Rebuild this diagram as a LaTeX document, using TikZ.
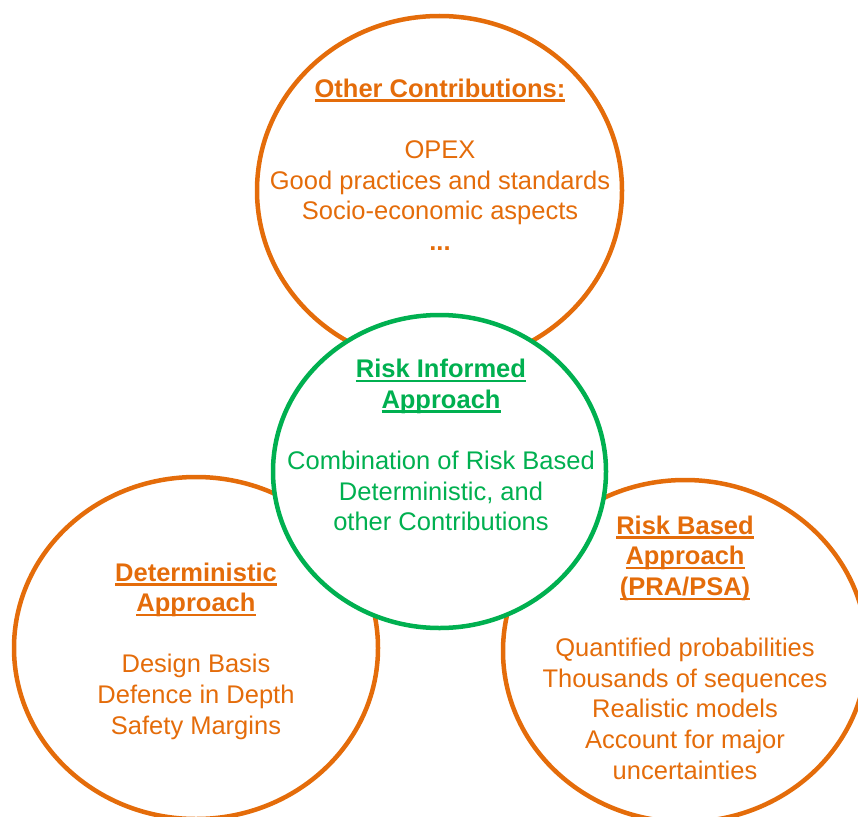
\documentclass[tikz,border=0pt]{standalone}
\usepackage{fontspec}
\setmainfont{Liberation Sans}
\definecolor{riskorange}{HTML}{E46C0A}
\definecolor{riskgreen}{HTML}{00B050}
% heading underline at a fixed distance below the baseline
\newcommand{\headul}[1]{\setbox0=\hbox{#1}\rlap{\rule[-4.6pt]{\wd0}{2.4pt}}\box0}
\tikzset{
  ring/.style={line width=4.5pt},
  blocktext/.style={align=center, font=\fontsize{25.5}{30.6}\selectfont, inner sep=0pt},
}
\begin{document}
\begin{tikzpicture}[x=1pt,y=-1pt]
  \useasboundingbox (0,0) rectangle (858,816);
  \clip (0,0) rectangle (858,816);
  \coordinate (topc) at (439.5,190.5);
  \coordinate (leftc) at (196,648);
  \coordinate (rightc) at (685,651);
  \coordinate (midc) at (439.5,471.5);
  % outer circles
  \draw[ring, riskorange] (topc) ellipse [x radius=182.5, y radius=174.5];
  \draw[ring, riskorange] (leftc) ellipse [x radius=182, y radius=171];
  \draw[ring, riskorange] (rightc) ellipse [x radius=182, y radius=171];
  % central circle on top
  \draw[ring, riskgreen, fill=white] (midc) ellipse [x radius=166.5, y radius=156.5];
  % texts
  \node[blocktext, text=riskorange] (othertext) at (440,164.5)
    {\textbf{\headul{Other Contributions:}}\\[30.6pt]
     OPEX\\ Good practices and standards\\ Socio-economic aspects\\ \textbf{...}};
  \node[blocktext, text=riskgreen] (informedtext) at (441,445)
    {\textbf{\headul{Risk Informed}}\\ \textbf{\headul{Approach}}\\[30.6pt]
     Combination of Risk Based\\ Deterministic, and\\ other Contributions};
  \node[blocktext, text=riskorange] (detertext) at (196,651)
    {\textbf{\headul{Deterministic}}\\ \textbf{\headul{Approach}}\\[30.6pt]
     Design Basis\\ Defence in Depth\\ Safety Margins};
  \node[blocktext, text=riskorange] (basedtext) at (685,647.5)
    {\textbf{\headul{Risk Based}}\\ \textbf{\headul{Approach}}\\ \textbf{\headul{(PRA/PSA)}}\\[30.6pt]
     Quantified probabilities\\ Thousands of sequences\\ Realistic models\\ Account for major\\ uncertainties};
\end{tikzpicture}
\end{document}
